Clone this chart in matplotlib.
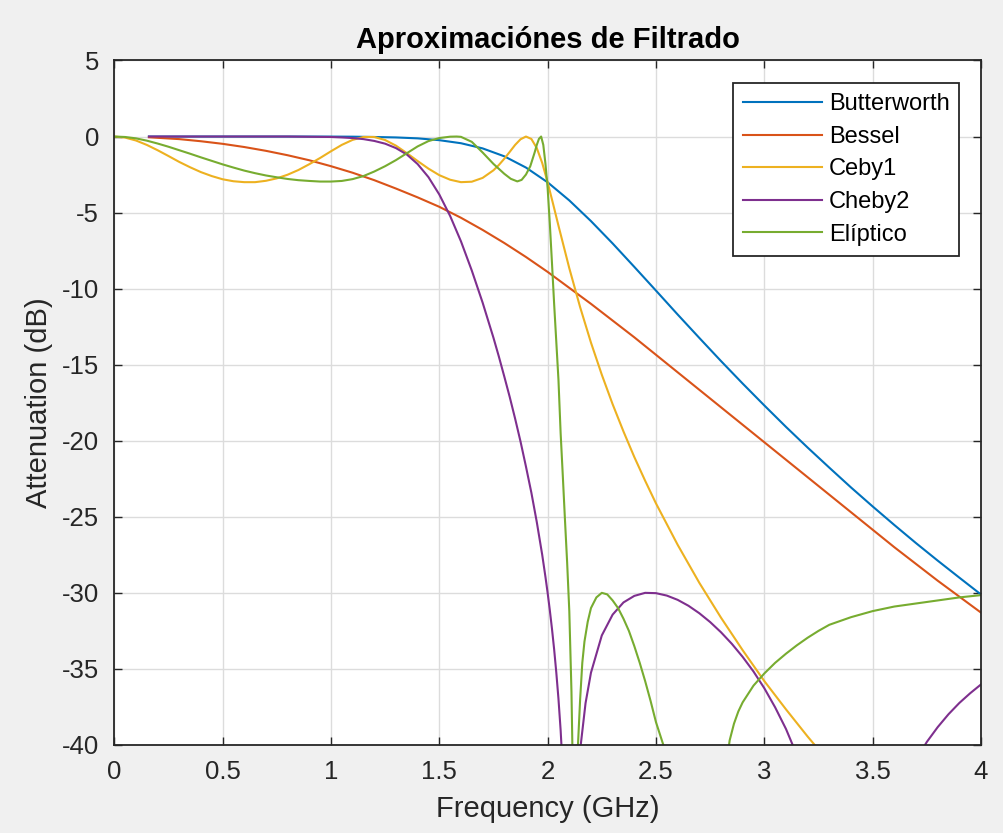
import matplotlib
matplotlib.use("Agg")
import matplotlib.pyplot as plt
from matplotlib.ticker import FuncFormatter

plt.rcParams['font.family'] = ['Liberation Sans', 'DejaVu Sans']
plt.rcParams['axes.unicode_minus'] = False

# attenuation curves (GHz, dB)
f_butter = [0.16, 0.4, 0.6, 0.8, 1.0, 1.1, 1.2, 1.3, 1.4, 1.5, 1.6, 1.7, 1.8, 1.9,
            2.0, 2.1, 2.2, 2.3, 2.4, 2.5, 2.6, 2.7, 2.8, 2.9, 3.0, 3.1, 3.2, 3.3,
            3.4, 3.5, 3.6, 3.7, 3.8, 3.9, 4.0]
a_butter = [0, 0, 0, 0, -0.004, -0.01, -0.03, -0.06, -0.12, -0.24, -0.44, -0.78,
            -1.30, -2.04, -3.01, -4.20, -5.56, -7.03, -8.57, -10.13, -11.70, -13.24,
            -14.76, -16.24, -17.68, -19.09, -20.45, -21.77, -23.07, -24.32, -25.54,
            -26.73, -27.88, -29.0, -30.11]

f_bessel = [0.16, 0.3, 0.4, 0.5, 0.6, 0.7, 0.8, 0.9, 1.0, 1.1, 1.2, 1.3, 1.4, 1.5,
            1.6, 1.7, 1.8, 1.9, 2.0, 2.2, 2.4, 2.6, 2.8, 3.0, 3.2, 3.4, 3.6, 3.8, 4.0]
a_bessel = [-0.05, -0.17, -0.31, -0.48, -0.69, -0.94, -1.23, -1.56, -1.95, -2.38,
            -2.87, -3.42, -4.0, -4.62, -5.34, -6.14, -7.0, -7.92, -8.9, -11.0, -13.2,
            -15.5, -17.8, -20.1, -22.4, -24.7, -27.0, -29.2, -31.3]

f_cheby1 = [0, 0.05, 0.1, 0.15, 0.2, 0.25, 0.3, 0.35, 0.4, 0.45, 0.5, 0.55, 0.6,
            0.65, 0.7, 0.75, 0.8, 0.85, 0.9, 0.95, 1.0, 1.05, 1.1, 1.15, 1.2, 1.25,
            1.3, 1.35, 1.4, 1.45, 1.5, 1.55, 1.6, 1.65, 1.7, 1.75, 1.775, 1.8, 1.825,
            1.85, 1.875, 1.9, 1.925, 1.95, 1.975, 2.0, 2.025, 2.05, 2.1, 2.15, 2.2,
            2.25, 2.3, 2.35, 2.4, 2.45, 2.5, 2.6, 2.7, 2.8, 2.9, 3.0, 3.1, 3.2, 3.3]
a_cheby1 = [0, -0.07, -0.26, -0.55, -0.90, -1.28, -1.67, -2.02, -2.34, -2.60, -2.81,
            -2.94, -3.0, -3.0, -2.91, -2.75, -2.51, -2.20, -1.82, -1.41, -0.97, -0.55,
            -0.22, -0.03, -0.03, -0.23, -0.60, -1.09, -1.61, -2.11, -2.54, -2.84,
            -3.0, -2.97, -2.72, -2.22, -1.87, -1.46, -1.01, -0.55, -0.18, 0.0, -0.16,
            -0.76, -1.74, -3.01, -4.42, -5.86, -8.66, -11.22, -13.55, -15.66, -17.6,
            -19.39, -21.07, -22.63, -24.12, -26.84, -29.34, -31.63, -33.77, -35.8,
            -37.66, -39.45, -41.14]

f_cheby2 = [0.16, 0.5, 0.8, 1.0, 1.05, 1.1, 1.15, 1.2, 1.25, 1.3, 1.35, 1.4, 1.45,
            1.5, 1.55, 1.6, 1.65, 1.7, 1.75, 1.775, 1.8, 1.825, 1.85, 1.875, 1.9,
            1.925, 1.95, 1.975, 1.99, 2.0, 2.01, 2.02, 2.03, 2.04, 2.05, 2.06, 2.07,
            2.08, 2.1, 2.12, 2.13, 2.14, 2.15, 2.175, 2.2, 2.25, 2.3, 2.35, 2.4, 2.45,
            2.5, 2.55, 2.6, 2.65, 2.7, 2.75, 2.8, 2.85, 2.9, 2.95, 3.0, 3.05, 3.1,
            3.15, 3.2, 3.3, 3.5, 3.6, 3.65, 3.7, 3.75, 3.8, 3.85, 3.9, 3.95, 4.0]
a_cheby2 = [0, 0, 0, -0.03, -0.06, -0.10, -0.17, -0.29, -0.47, -0.76, -1.18, -1.81,
            -2.67, -3.81, -5.22, -6.89, -8.81, -10.92, -13.23, -14.47, -15.78, -17.12,
            -18.55, -20.06, -21.7, -23.42, -25.35, -27.5, -28.96, -30.0, -31.13,
            -32.36, -33.71, -35.24, -36.97, -39.03, -41.66, -45.0, -62.0, -48.5,
            -44.74, -42.23, -40.34, -37.25, -35.25, -32.8, -31.43, -30.63, -30.2,
            -30.0, -30.02, -30.18, -30.46, -30.85, -31.34, -31.92, -32.59, -33.35,
            -34.21, -35.17, -36.27, -37.53, -38.95, -40.65, -42.7, -48.8, -49.9,
            -44.2, -42.38, -40.98, -39.8, -38.83, -37.98, -37.24, -36.6, -36.02]

f_ellip = [0, 0.05, 0.1, 0.15, 0.2, 0.25, 0.3, 0.35, 0.4, 0.45, 0.5, 0.55, 0.6, 0.65,
           0.7, 0.75, 0.8, 0.85, 0.9, 0.95, 1.0, 1.05, 1.1, 1.15, 1.2, 1.25, 1.3,
           1.35, 1.4, 1.45, 1.5, 1.55, 1.58, 1.6, 1.65, 1.7, 1.75, 1.8, 1.83, 1.86,
           1.88, 1.9, 1.92, 1.94, 1.95, 1.96, 1.97, 1.98, 1.99, 2.0, 2.01, 2.02, 2.03,
           2.04, 2.05, 2.06, 2.07, 2.08, 2.09, 2.1, 2.11, 2.12, 2.127, 2.135, 2.14,
           2.15, 2.16, 2.17, 2.185, 2.2, 2.225, 2.25, 2.275, 2.3, 2.325, 2.35, 2.375,
           2.4, 2.425, 2.45, 2.475, 2.5, 2.534, 2.56, 2.6, 2.7, 2.8, 2.82, 2.84,
           2.86, 2.88, 2.9, 2.95, 3.0, 3.05, 3.1, 3.15, 3.2, 3.25, 3.3, 3.4, 3.5,
           3.6, 3.7, 3.8, 3.9, 4.0]
a_ellip = [0, -0.03, -0.12, -0.27, -0.46, -0.67, -0.90, -1.13, -1.37, -1.6, -1.83,
           -2.04, -2.24, -2.41, -2.56, -2.68, -2.79, -2.87, -2.92, -2.96, -2.96, -2.92,
           -2.8, -2.6, -2.3, -1.95, -1.55, -1.1, -0.65, -0.3, -0.1, -0.01, 0.0, -0.02,
           -0.35, -1.05, -1.8, -2.45, -2.78, -2.95, -2.85, -2.5, -1.95, -1.05, -0.55,
           -0.15, 0.0, -0.55, -1.8, -3.4, -5.7, -8.3, -11.0, -13.5, -16.0, -19.5,
           -22.3, -25.2, -28.0, -31.2, -36.5, -45.0, -60.0, -45.0, -40.0, -37.0,
           -34.6, -33.2, -31.9, -31.0, -30.3, -30.0, -30.1, -30.5, -31.0, -31.7,
           -32.5, -33.5, -34.6, -35.8, -37.1, -38.5, -40.0, -42.5, -47.0, -60.0,
           -45.0, -41.8, -39.7, -38.6, -37.8, -37.2, -36.1, -35.3, -34.6, -34.0,
           -33.45, -32.95, -32.5, -32.1, -31.6, -31.2, -30.9, -30.7, -30.5, -30.3,
           -30.15]

names = ["Butterworth", "Bessel", "Ceby1", "Cheby2", "Elíptico"]
colors = ["#0072BD", "#D95319", "#EDB120", "#7E2F8E", "#77AC30"]
x_ticks = [0, 0.5, 1, 1.5, 2, 2.5, 3, 3.5, 4]
y_ticks = [-40, -35, -30, -25, -20, -15, -10, -5, 0, 5]

fig = plt.figure(figsize=(10.04, 8.33), dpi=100, facecolor="#f0f0f0")
ax = fig.add_axes([0.1138, 0.1057, 0.8633, 0.8217])

series = [(f_butter, a_butter), (f_bessel, a_bessel), (f_cheby1, a_cheby1),
          (f_cheby2, a_cheby2), (f_ellip, a_ellip)]
for (fx, ay), name, c in zip(series, names, colors):
    ax.plot(fx, ay, color=c, lw=1.5, label=name)

ax.set_xlim(0, 4)
ax.set_ylim(-40, 5)
ax.set_xticks(x_ticks)
ax.set_yticks(y_ticks)
ax.xaxis.set_major_formatter(FuncFormatter(lambda v, p: "%g" % v))
ax.yaxis.set_major_formatter(FuncFormatter(lambda v, p: "%g" % v))
ax.grid(True, color="#dcdcdc", lw=1)
ax.set_axisbelow(True)
ax.tick_params(direction="in", length=5.5, width=1, top=True, right=True,
               labelsize=18.5, colors="#262626", pad=11)
for s in ax.spines.values():
    s.set_color("#262626")
    s.set_linewidth(1.3)

ax.set_title("Aproximaciónes de Filtrado", fontsize=21, fontweight="bold", pad=9)
ax.set_xlabel("Frequency (GHz)", fontsize=21, color="#262626", labelpad=8)
ax.set_ylabel("Attenuation (dB)", fontsize=21, color="#262626", labelpad=6)

lgd = ax.legend(loc="upper right", bbox_to_anchor=(0.975, 0.9667), borderaxespad=0,
                fontsize=17, fancybox=False, framealpha=1, edgecolor="#262626",
                handlelength=3.35, handletextpad=0.27, labelspacing=0.45,
                borderpad=0.42)
lgd.get_frame().set_linewidth(1.3)

fig.savefig("out.png", dpi=100, facecolor=fig.get_facecolor())
